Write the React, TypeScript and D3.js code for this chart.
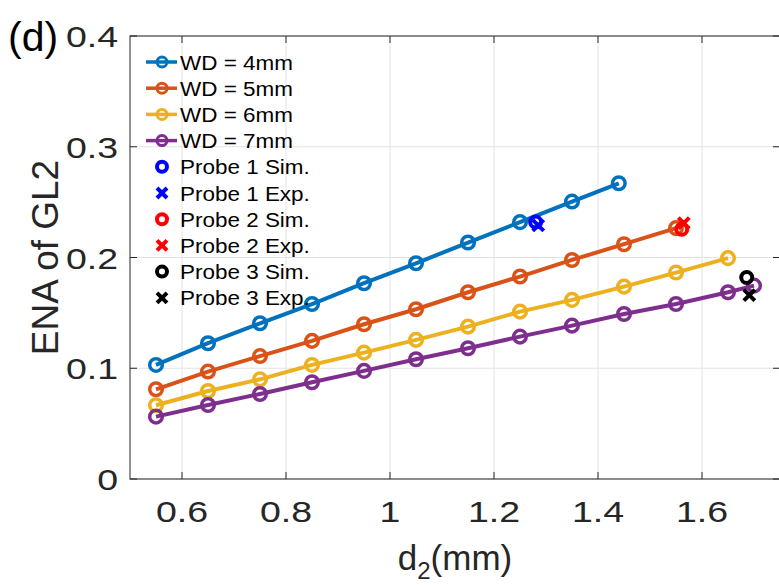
import React from "react";
import * as d3 from "d3";

const W = 779;
const H = 585;

const xTicks = [0.6, 0.8, 1.0, 1.2, 1.4, 1.6];
const xTickLabels = ["0.6", "0.8", "1", "1.2", "1.4", "1.6"];
const yTicks = [0, 0.1, 0.2, 0.3, 0.4];
const yTickLabels = ["0", "0.1", "0.2", "0.3", "0.4"];

const wd4X = [0.55, 0.65, 0.75, 0.85, 0.95, 1.05, 1.15, 1.25, 1.35, 1.44];
const wd4Y = [0.103, 0.1226, 0.1406, 0.158, 0.1768, 0.1948, 0.2135, 0.2319, 0.2505, 0.267];
const wd5X = [0.55, 0.65, 0.75, 0.85, 0.95, 1.05, 1.15, 1.25, 1.35, 1.45, 1.55];
const wd5Y = [0.081, 0.097, 0.111, 0.1247, 0.1397, 0.1533, 0.1686, 0.1828, 0.1978, 0.212, 0.2265];
const wd6X = [0.55, 0.65, 0.75, 0.85, 0.95, 1.05, 1.15, 1.25, 1.35, 1.45, 1.55, 1.65];
const wd6Y = [0.0666, 0.0795, 0.09, 0.103, 0.1141, 0.1256, 0.1376, 0.1511, 0.1617, 0.1737, 0.1864, 0.1994];
const wd7X = [0.55, 0.65, 0.75, 0.85, 0.95, 1.05, 1.15, 1.25, 1.35, 1.45, 1.55, 1.65, 1.7];
const wd7Y = [0.0563, 0.0668, 0.0768, 0.0873, 0.0976, 0.1081, 0.118, 0.1286, 0.1385, 0.149, 0.158, 0.1686, 0.1746];

const seriesNames = ["WD = 4mm", "WD = 5mm", "WD = 6mm", "WD = 7mm"];
const seriesColors = ["#0072BD", "#D95319", "#EDB120", "#7E2F8E"];
const seriesX = [wd4X, wd5X, wd6X, wd7X];
const seriesY = [wd4Y, wd5Y, wd6Y, wd7Y];

const probeNames = ["Probe 1", "Probe 2", "Probe 3"];
const probeColors = ["#0000FF", "#FF0000", "#000000"];
const probeSimX = [1.28, 1.561, 1.686];
const probeSimY = [0.232, 0.2255, 0.182];
const probeExpX = [1.285, 1.565, 1.691];
const probeExpY = [0.229, 0.231, 0.166];

const FONT = "'Liberation Sans', Arial, Helvetica, sans-serif";
const TXT = "#262626";

export default function App() {
  const left = 130, right = 780, top = 36, bottom = 479;
  const x = d3.scaleLinear().domain([0.5, 1.75]).range([left, right]);
  const y = d3.scaleLinear().domain([0, 0.4]).range([bottom, top]);
  const line = d3.line<[number, number]>().x(d => x(d[0])).y(d => y(d[1]));

  const cross = (cx: number, cy: number, s: number) =>
    `M${cx - s},${cy - s}L${cx + s},${cy + s}M${cx - s},${cy + s}L${cx + s},${cy - s}`;

  const tickLen = 7;
  const legendRows = [
    ...seriesNames.map((n, i) => ({ kind: "line", label: n, color: seriesColors[i] })),
    ...probeNames.flatMap((n, i) => [
      { kind: "o", label: `${n} Sim.`, color: probeColors[i] },
      { kind: "x", label: `${n} Exp.`, color: probeColors[i] },
    ]),
  ];

  return (
    <svg width={W} height={H} style={{ position: "absolute", left: 0, top: 0, background: "#fff" }} fontFamily={FONT}>
      <rect x={0} y={0} width={W} height={H} fill="#fff" />
      {/* grid */}
      {xTicks.map((t, i) => (
        <line key={"gx" + i} x1={x(t)} x2={x(t)} y1={top} y2={bottom} stroke="#e3e3e3" strokeWidth={1} />
      ))}
      {yTicks.map((t, i) => (
        <line key={"gy" + i} x1={left} x2={right} y1={y(t)} y2={y(t)} stroke="#e3e3e3" strokeWidth={1} />
      ))}
      {/* frame */}
      <rect x={left} y={top} width={right - left} height={bottom - top} fill="none" stroke="#262626" strokeWidth={1} />
      {/* ticks */}
      {xTicks.map((t, i) => (
        <g key={"tx" + i}>
          <line x1={x(t)} x2={x(t)} y1={bottom} y2={bottom - tickLen} stroke="#262626" />
          <line x1={x(t)} x2={x(t)} y1={top} y2={top + tickLen} stroke="#262626" />
          <text transform={`translate(${x(t)},${522}) scale(1.25,1)`} textAnchor="middle" fontSize={30} fill={TXT}>
            {xTickLabels[i]}
          </text>
        </g>
      ))}
      {yTicks.map((t, i) => (
        <g key={"ty" + i}>
          <line x1={left} x2={left + tickLen} y1={y(t)} y2={y(t)} stroke="#262626" />
          <line x1={right} x2={right - tickLen} y1={y(t)} y2={y(t)} stroke="#262626" />
          <text transform={`translate(${118},${y(t) + 11}) scale(1.25,1)`} textAnchor="end" fontSize={30} fill={TXT}>
            {yTickLabels[i]}
          </text>
        </g>
      ))}
      {/* series */}
      {seriesX.map((xs, si) => {
        const pts = xs.map((v, j) => [v, seriesY[si][j]] as [number, number]);
        return (
          <g key={"s" + si}>
            <path d={line(pts) || ""} fill="none" stroke={seriesColors[si]} strokeWidth={4} />
            {pts.map((p, j) => (
              <circle key={j} cx={x(p[0])} cy={y(p[1])} r={6.3} fill="none" stroke={seriesColors[si]} strokeWidth={3.5} />
            ))}
          </g>
        );
      })}
      {/* probes */}
      {probeNames.map((n, i) => (
        <g key={"p" + i}>
          <circle cx={x(probeSimX[i])} cy={y(probeSimY[i])} r={5.5} fill="none" stroke={probeColors[i]} strokeWidth={4} />
          <path d={cross(x(probeExpX[i]), y(probeExpY[i]), 5.5)} stroke={probeColors[i]} strokeWidth={4} fill="none" />
        </g>
      ))}
      {/* legend */}
      {legendRows.map((r, i) => {
        const ry = 62 + i * 26.2;
        return (
          <g key={"l" + i}>
            {r.kind === "line" && (
              <>
                <line x1={146} x2={177} y1={ry} y2={ry} stroke={r.color} strokeWidth={3.5} />
                <circle cx={162} cy={ry} r={5} fill="none" stroke={r.color} strokeWidth={3} />
              </>
            )}
            {r.kind === "o" && <circle cx={162} cy={ry} r={5} fill="none" stroke={r.color} strokeWidth={4} />}
            {r.kind === "x" && <path d={cross(162, ry, 5)} stroke={r.color} strokeWidth={4} fill="none" />}
            <text transform={`translate(180,${ry + 7.5}) scale(1.07,1)`} fontSize={21} fill="#000">
              {r.label}
            </text>
          </g>
        );
      })}
      {/* axis labels */}
      <text x={455} y={570} textAnchor="middle" fontSize={35} fill={TXT}>
        d<tspan fontSize={24} dy={9}>2</tspan>
        <tspan dy={-9}>(mm)</tspan>
      </text>
      <text transform={`translate(58,${(top + bottom) / 2}) rotate(-90)`} textAnchor="middle" fontSize={37} fill={TXT}>
        ENA of GL2
      </text>
      <text x={8} y={51} fontSize={41} fill="#000">
        (d)
      </text>
    </svg>
  );
}
